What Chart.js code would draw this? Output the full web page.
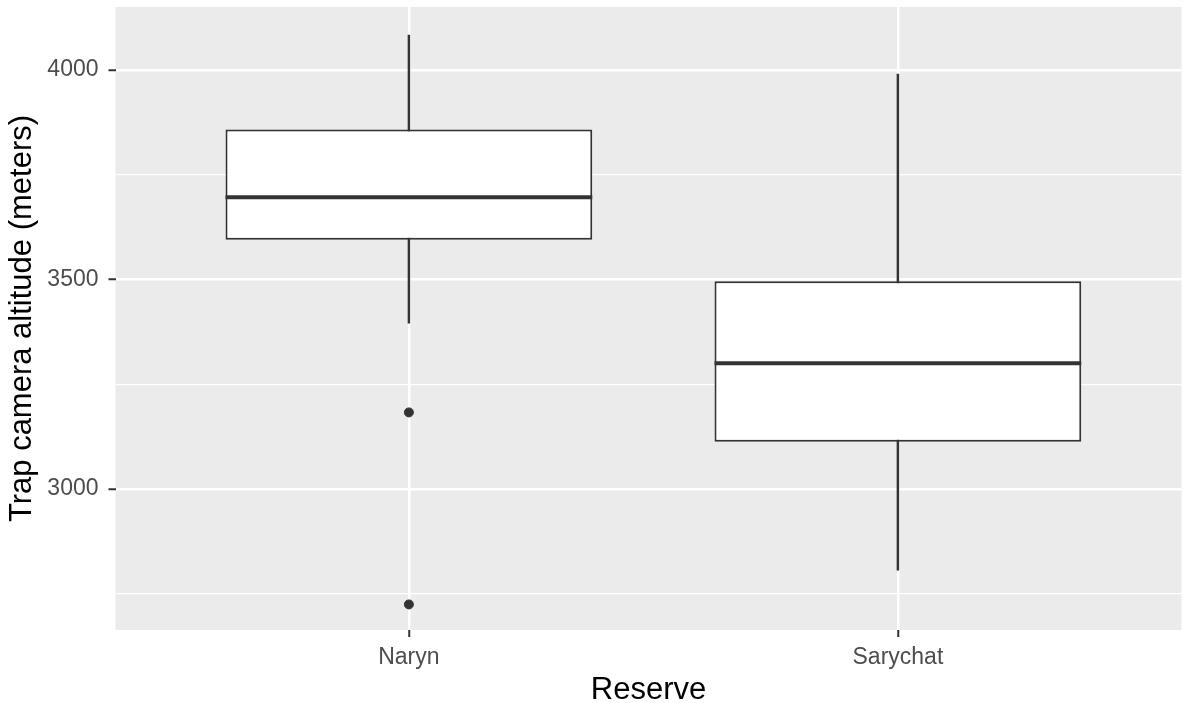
<!DOCTYPE html>
<html>
<head>
<meta charset="utf-8">
<script src="https://cdn.jsdelivr.net/npm/chart.js@4.4.1/dist/chart.umd.min.js"></script>
<style>
  body { margin: 0; background: #fff; }
  #wrap { width: 1187px; height: 703px; }
</style>
</head>
<body>
<div id="wrap"><canvas id="grafico"></canvas></div>
<script>
// reservas e resumo do boxplot
const reservas = ["Naryn", "Sarychat"];
const posicoes = [1, 2];
const minimos = [3396, 2807];
const q1 = [3595, 3113];
const medianas = [3696, 3300];
const q3 = [3858, 3496];
const maximos = [4083, 3990];
const outliersNaryn = [3183, 2725];
const ticksY = [2750, 3000, 3250, 3500, 3750, 4000];

const fonte = "'Liberation Sans', Arial, sans-serif";

const fundoPainel = {
  id: "fundoPainel",
  beforeDraw(chart) {
    const { ctx, chartArea: a } = chart;
    ctx.save();
    ctx.fillStyle = "#EBEBEB";
    ctx.fillRect(a.left, a.top, a.right - a.left, a.bottom - a.top);
    ctx.restore();
  }
};

const linhaMediana = {
  id: "linhaMediana",
  afterDatasetsDraw(chart) {
    const meta = chart.getDatasetMeta(0);
    const y = chart.scales.y;
    const ctx = chart.ctx;
    ctx.save();
    ctx.strokeStyle = "#333333";
    ctx.lineWidth = 4;
    meta.data.forEach((bar, i) => {
      const py = y.getPixelForValue(medianas[i]);
      ctx.beginPath();
      ctx.moveTo(bar.x - bar.width / 2, py);
      ctx.lineTo(bar.x + bar.width / 2, py);
      ctx.stroke();
    });
    ctx.restore();
  }
};

const ctx = document.getElementById("grafico").getContext("2d");

new Chart(ctx, {
  type: "bar",
  data: {
    datasets: [
      {
        label: "caixa",
        data: posicoes.map((x, i) => ({ x: x, y: [q1[i], q3[i]] })),
        backgroundColor: "#FFFFFF",
        borderColor: "#333333",
        borderWidth: 2,
        borderSkipped: false,
        barPercentage: 0.75,
        categoryPercentage: 1,
        grouped: false,
        order: 1
      },
      {
        label: "bigodes",
        data: posicoes.map((x, i) => ({ x: x, y: [minimos[i], maximos[i]] })),
        backgroundColor: "#333333",
        barThickness: 1.8,
        grouped: false,
        order: 2
      },
      {
        type: "scatter",
        label: "outliers",
        data: outliersNaryn.map(v => ({ x: posicoes[0], y: v })),
        backgroundColor: "#333333",
        borderColor: "#333333",
        pointRadius: 4.5,
        order: 0
      }
    ]
  },
  options: {
    responsive: true,
    maintainAspectRatio: false,
    animation: false,
    layout: { padding: { top: 7, right: 5, left: 0, bottom: 0 } },
    plugins: { legend: { display: false }, tooltip: { enabled: false } },
    scales: {
      x: {
        type: "linear",
        min: 0.4,
        max: 2.58,
        offset: false,
        afterBuildTicks: (s) => { s.ticks = posicoes.map(v => ({ value: v })); },
        afterFit: (s) => { s.height = 73; s.paddingLeft = 0; s.paddingRight = 0; },
        border: { display: false },
        grid: {
          offset: false,
          color: "#FFFFFF",
          lineWidth: 2.5,
          tickColor: "#333333",
          tickWidth: 2,
          tickLength: 7
        },
        ticks: {
          color: "#4D4D4D",
          font: { family: fonte, size: 23 },
          padding: 7,
          maxRotation: 0,
          callback: (v) => reservas[posicoes.indexOf(v)] || ""
        },
        title: {
          display: true,
          text: "Reserve",
          color: "#000000",
          font: { family: fonte, size: 31, lineHeight: 0.8 },
          padding: { top: 0, bottom: 0 }
        }
      },
      y: {
        min: 2664,
        max: 4150,
        afterBuildTicks: (s) => { s.ticks = ticksY.map(v => ({ value: v })); },
        afterFit: (s) => { s.width = 115.5; s.paddingTop = 0; s.paddingBottom = 0; },
        border: { display: false },
        grid: {
          color: "#FFFFFF",
          lineWidth: (c) => (c.tick && c.tick.value % 500 === 0 ? 2.5 : 1.2),
          tickColor: (c) => (c.tick && c.tick.value % 500 === 0 ? "#333333" : "rgba(0,0,0,0)"),
          tickWidth: 2,
          tickLength: 7
        },
        ticks: {
          color: "#4D4D4D",
          font: { family: fonte, size: 23 },
          padding: 10,
          callback: (v) => (v % 500 === 0 ? String(v) : "")
        },
        title: {
          display: true,
          text: "Trap camera altitude (meters)",
          color: "#000000",
          font: { family: fonte, size: 31 },
          padding: { top: 4, bottom: 0 }
        }
      }
    }
  },
  plugins: [fundoPainel, linhaMediana]
});
</script>
</body>
</html>
